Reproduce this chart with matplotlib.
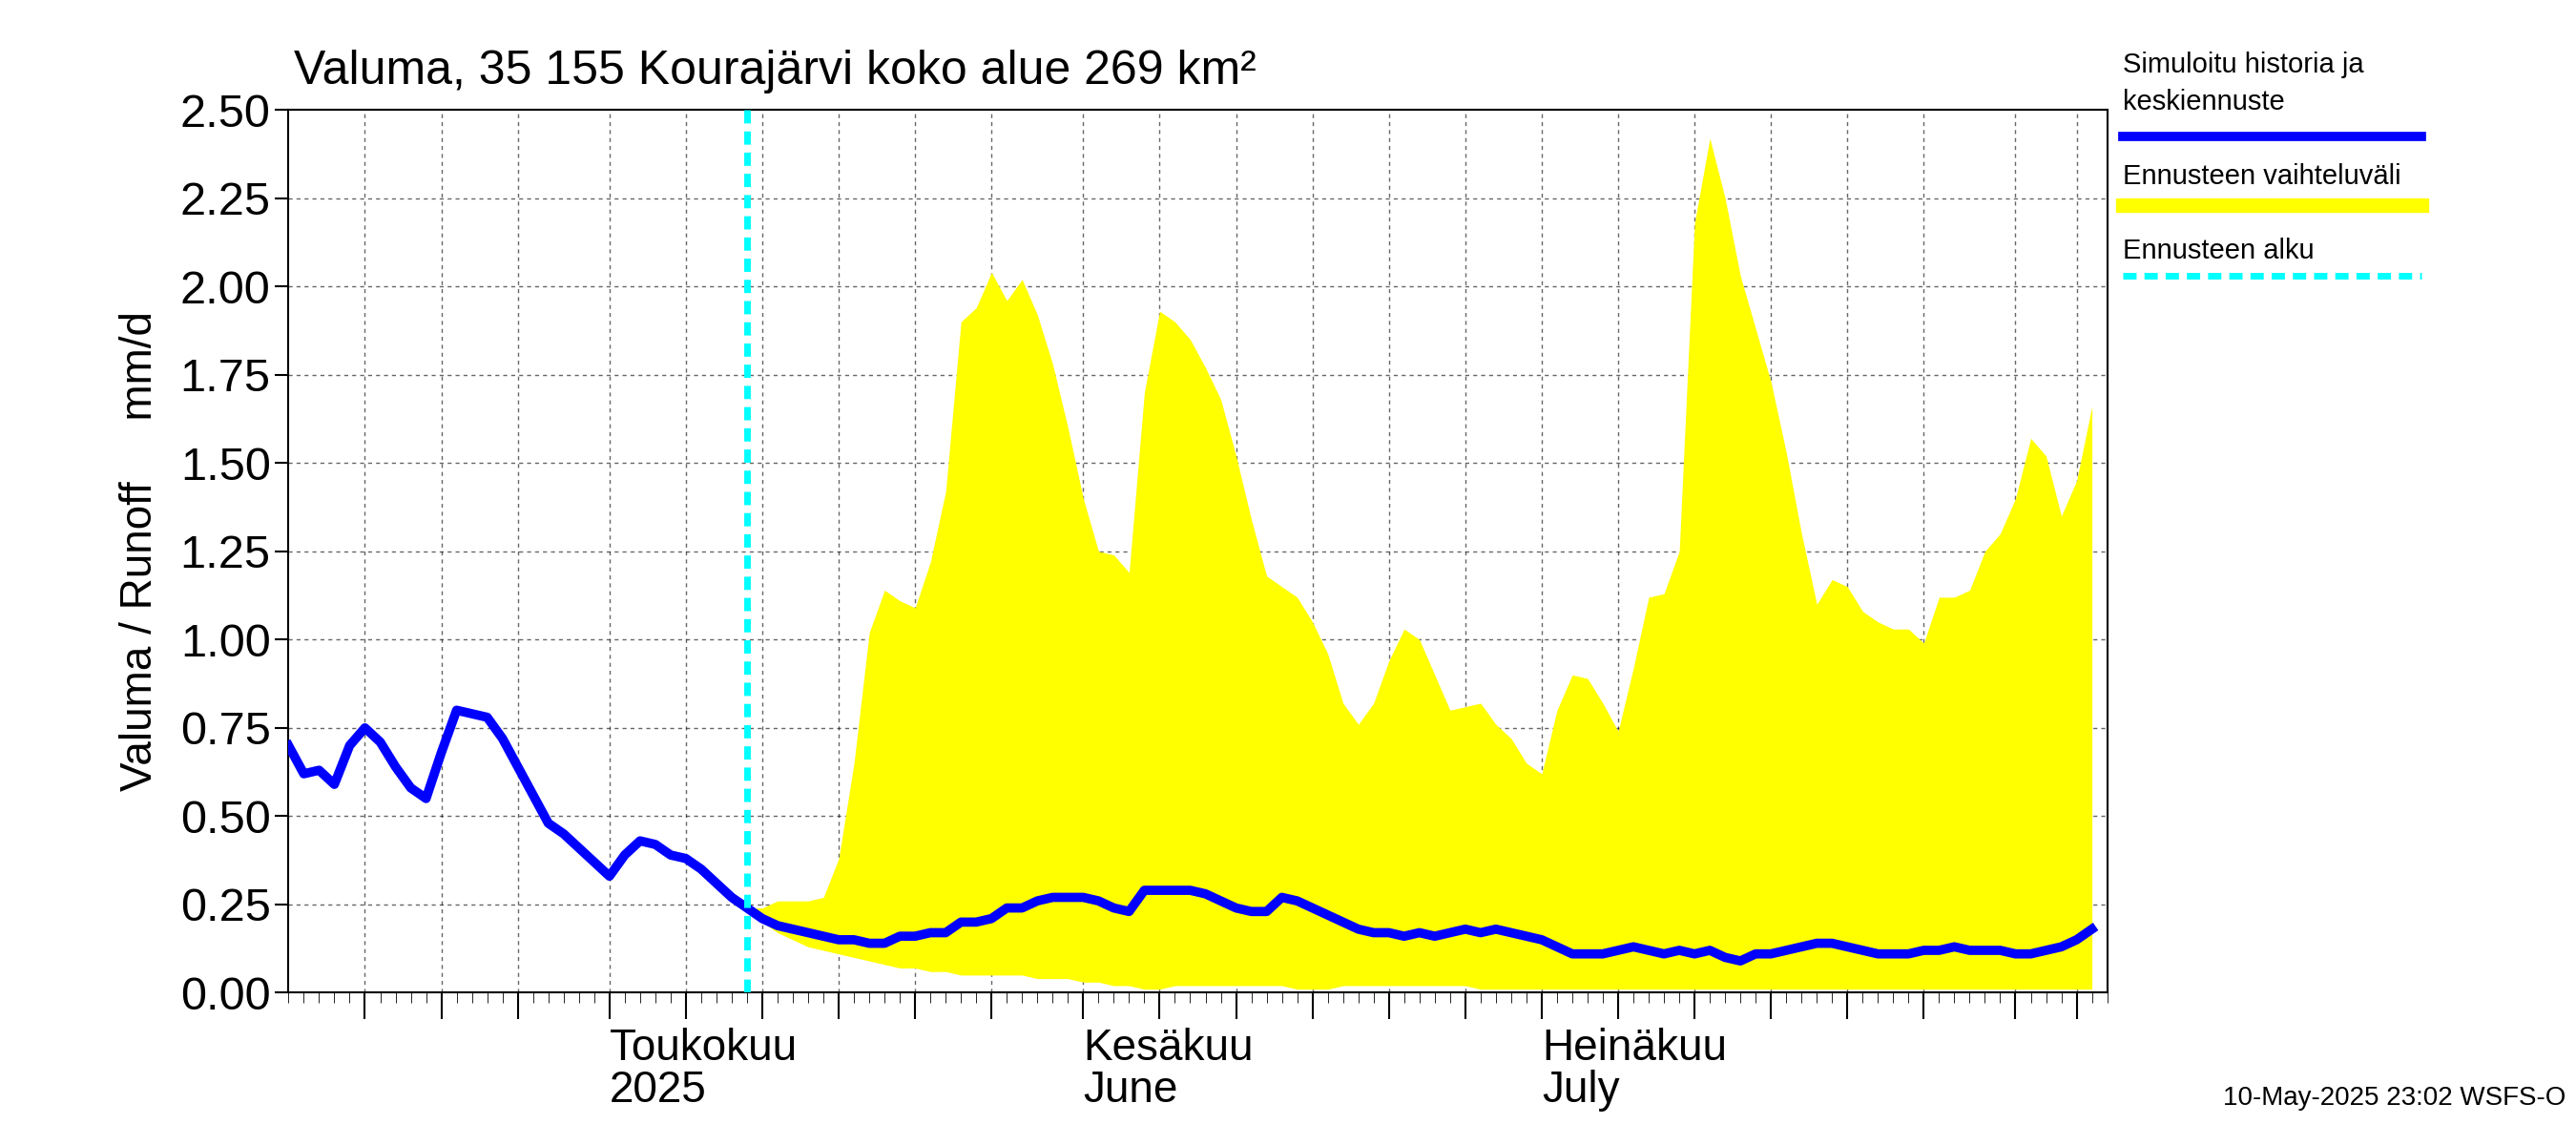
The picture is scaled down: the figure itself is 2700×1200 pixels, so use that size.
import numpy as np
import pandas as pd
import matplotlib
matplotlib.use("Agg")
from matplotlib import pyplot as plt
import matplotlib.dates as mdates

## Data ##
hist_start = "2025-04-10"
blue_apr = [0.70, 0.62, 0.63, 0.59, 0.70, 0.75, 0.71, 0.64, 0.58, 0.55, 0.68,
            0.80, 0.79, 0.78, 0.72, 0.64, 0.56, 0.48, 0.45, 0.41, 0.37]
blue_may = [0.33, 0.39, 0.43, 0.42, 0.39, 0.38, 0.35, 0.31, 0.27, 0.24, 0.21,
            0.19, 0.18, 0.17, 0.16, 0.15, 0.15, 0.14, 0.14, 0.16, 0.16, 0.17,
            0.17, 0.20, 0.20, 0.21, 0.24, 0.24, 0.26, 0.27, 0.27]
blue_jun = [0.27, 0.26, 0.24, 0.23, 0.29, 0.29, 0.29, 0.29, 0.28, 0.26, 0.24,
            0.23, 0.23, 0.27, 0.26, 0.24, 0.22, 0.20, 0.18, 0.17, 0.17, 0.16,
            0.17, 0.16, 0.17, 0.18, 0.17, 0.18, 0.17, 0.16]
blue_jul = [0.15, 0.13, 0.11, 0.11, 0.11, 0.12, 0.13, 0.12, 0.11, 0.12, 0.11,
            0.12, 0.10, 0.09, 0.11, 0.11, 0.12, 0.13, 0.14, 0.14, 0.13, 0.12,
            0.11, 0.11, 0.11, 0.12, 0.12, 0.13, 0.12, 0.12, 0.12]
blue_aug = [0.11, 0.11, 0.12, 0.13, 0.15, 0.18]
blue = blue_apr + blue_may + blue_jun + blue_jul + blue_aug

fc_start = "2025-05-10"
upper = [0.24, 0.24, 0.26, 0.26, 0.26, 0.27, 0.38, 0.65, 1.02, 1.14, 1.11, 1.09,
         1.22, 1.42, 1.90, 1.94, 2.04, 1.96, 2.02, 1.92, 1.78, 1.60,
         1.40, 1.25, 1.24, 1.19, 1.70, 1.93, 1.90, 1.85, 1.77, 1.68, 1.52, 1.34,
         1.18, 1.15, 1.12, 1.05, 0.96, 0.82, 0.76, 0.82, 0.94, 1.03, 1.00, 0.90,
         0.80, 0.81, 0.82, 0.76, 0.72, 0.65,
         0.62, 0.80, 0.90, 0.89, 0.82, 0.74, 0.92, 1.12, 1.13, 1.25, 2.18, 2.42,
         2.25, 2.03, 1.88, 1.73, 1.53, 1.30, 1.10, 1.17, 1.15, 1.08, 1.05, 1.03,
         1.03, 0.99, 1.12, 1.12, 1.14, 1.25, 1.30,
         1.40, 1.57, 1.52, 1.35, 1.45, 1.66]
lower = [0.24, 0.20, 0.17, 0.15, 0.13, 0.12, 0.11, 0.10, 0.09, 0.08, 0.07, 0.07,
         0.06, 0.06, 0.05, 0.05, 0.05, 0.05, 0.05, 0.04, 0.04, 0.04,
         0.03, 0.03, 0.02, 0.02, 0.01, 0.01, 0.02, 0.02, 0.02, 0.02, 0.02, 0.02,
         0.02, 0.02, 0.01, 0.01, 0.01, 0.02, 0.02, 0.02, 0.02, 0.02, 0.02, 0.02,
         0.02, 0.02, 0.01, 0.01, 0.01, 0.01,
         0.01, 0.01, 0.01, 0.01, 0.01, 0.01, 0.01, 0.01, 0.01, 0.01, 0.01, 0.01,
         0.01, 0.01, 0.01, 0.01, 0.01, 0.01, 0.01, 0.01, 0.01, 0.01, 0.01, 0.01,
         0.01, 0.01, 0.01, 0.01, 0.01, 0.01, 0.01,
         0.01, 0.01, 0.01, 0.01, 0.01, 0.01]

yticks = [0.0, 0.25, 0.5, 0.75, 1.0, 1.25, 1.5, 1.75, 2.0, 2.25, 2.5]
month_labels = [("2025-05-01", "Toukokuu\n2025"), ("2025-06-01", "Kesäkuu\nJune"),
                ("2025-07-01", "Heinäkuu\nJuly")]

hist_dates = pd.date_range(hist_start, periods=len(blue), freq="D")
fc_dates = pd.date_range(fc_start, periods=len(upper), freq="D")

plt.rcParams["font.family"] = "Liberation Sans"
fig = plt.figure(figsize=(27, 12), dpi=100)
ax = fig.add_axes([0.112, 0.133, 0.706, 0.771])

ax.fill_between(fc_dates, lower, upper, color="yellow", linewidth=0, zorder=2)
ax.plot(hist_dates, blue, color="blue", linewidth=7, zorder=4)
ax.axvline(pd.Timestamp(fc_start), color="cyan", linewidth=5, linestyle=(0, (2, 1.2)), zorder=5)

ax.set_xlim(pd.Timestamp("2025-04-10"), pd.Timestamp("2025-08-07"))
ax.set_ylim(0, 2.5)
ax.set_yticks(yticks)
ax.set_yticklabels([f"{v:.2f}" for v in yticks], fontsize=35)

# dashed grid every 5 days-ish, month starts get long ticks
grid_days = [pd.Timestamp(d) for d in
             ["2025-04-15", "2025-04-20", "2025-04-25", "2025-05-01", "2025-05-06",
              "2025-05-11", "2025-05-16", "2025-05-21", "2025-05-26", "2025-06-01",
              "2025-06-06", "2025-06-11", "2025-06-16", "2025-06-21", "2025-06-26",
              "2025-07-01", "2025-07-06", "2025-07-11", "2025-07-16", "2025-07-21",
              "2025-07-26", "2025-08-01", "2025-08-05"]]
for d in grid_days:
    ax.axvline(d, color="black", linewidth=1, linestyle=(0, (3, 3)), alpha=0.6, zorder=1)
for v in yticks[1:-1]:
    ax.axhline(v, color="black", linewidth=1, linestyle=(0, (3, 3)), alpha=0.6, zorder=1)

ax.set_xticks(grid_days)
ax.set_xticklabels([])
ax.tick_params(axis="x", which="major", length=20, width=1.5)
ax.xaxis.set_minor_locator(mdates.DayLocator())
ax.tick_params(axis="x", which="minor", length=8)
ax.tick_params(axis="y", length=10, width=1.5)
for d, lab in month_labels:
    ax.text(pd.Timestamp(d), -0.04, lab, ha="left", va="top", fontsize=33,
            transform=ax.get_xaxis_transform(), linespacing=1.0)
for s in ax.spines.values():
    s.set_linewidth(1.5)

ax.set_ylabel("Valuma / Runoff     mm/d", fontsize=33, labelpad=14)
fig.text(0.114, 0.918, "Valuma, 35 155 Kourajärvi koko alue 269 km²", fontsize=36, va="bottom")

# legend on the right
fig.text(0.824, 0.955, "Simuloitu historia ja\nkeskiennuste", fontsize=21, va="top", linespacing=1.5)
fig.add_artist(plt.Line2D([0.824, 0.94], [0.881, 0.881], color="blue", linewidth=7))
fig.text(0.824, 0.846, "Ennusteen vaihteluväli", fontsize=21, va="center")
fig.add_artist(plt.Line2D([0.824, 0.94], [0.821, 0.821], color="yellow", linewidth=11))
fig.text(0.824, 0.781, "Ennusteen alku", fontsize=21, va="center")
fig.add_artist(plt.Line2D([0.824, 0.94], [0.759, 0.759], color="cyan", linewidth=5,
                          linestyle=(0, (2, 1.2))))
fig.text(0.996, 0.035, "10-May-2025 23:02 WSFS-O", fontsize=20, ha="right")

fig.savefig("out.png", dpi=100)
